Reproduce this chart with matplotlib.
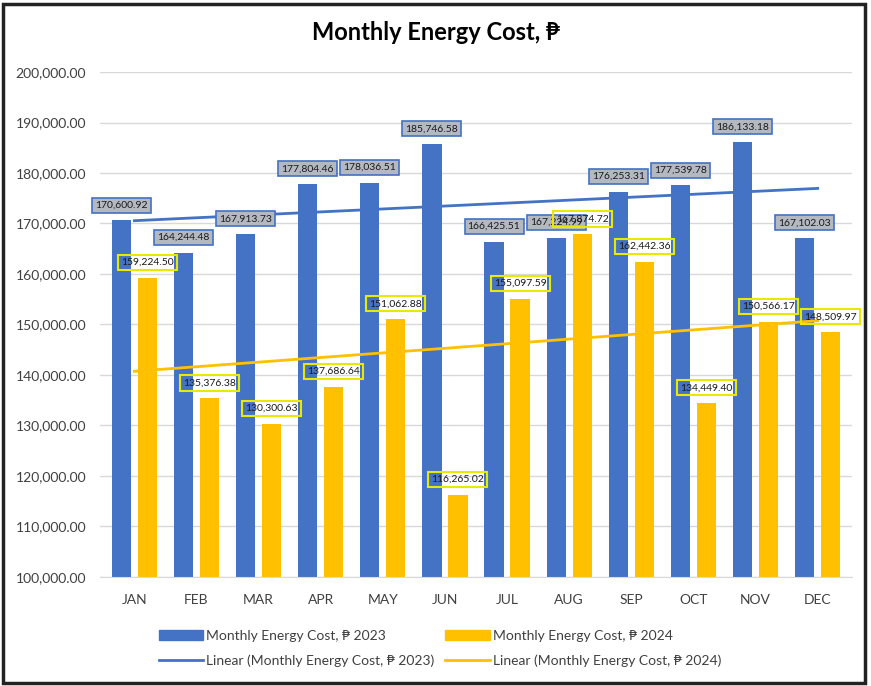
import matplotlib
matplotlib.use("Agg")
import matplotlib.pyplot as plt
import numpy as np
from matplotlib.patches import Rectangle
from matplotlib.lines import Line2D

months = ["JAN", "FEB", "MAR", "APR", "MAY", "JUN", "JUL", "AUG", "SEP", "OCT", "NOV", "DEC"]
cost_2023 = [170600.92, 164244.48, 167913.73, 177804.46, 178036.51, 185746.58,
             166425.51, 167224.99, 176253.31, 177539.78, 186133.18, 167102.03]
cost_2024 = [159224.50, 135376.38, 130300.63, 137686.64, 151062.88, 116265.02,
             155097.59, 167874.72, 162442.36, 134449.40, 150566.17, 148509.97]
yticks = [100000, 110000, 120000, 130000, 140000, 150000, 160000, 170000, 180000, 190000, 200000]

plt.rcParams['font.family'] = ['Lato', 'DejaVu Sans']

BLUE = "#4472C4"
YELLOW = "#FFC000"

fig = plt.figure(figsize=(8.71, 6.86), dpi=100)
ax = fig.add_axes([0.115, 0.159, 0.863, 0.736])

x = np.arange(len(months))
w = 0.31
off = 0.21
ax.bar(x - off, cost_2023, width=w, color=BLUE, zorder=2, label="Monthly Energy Cost, ₱ 2023")
ax.bar(x + off, cost_2024, width=w, color=YELLOW, zorder=2, label="Monthly Energy Cost, ₱ 2024")

# linear trendlines (least squares fit, as Excel does)
p23 = np.polyfit(x + 1, cost_2023, 1)
p24 = np.polyfit(x + 1, cost_2024, 1)
ax.plot(x, np.polyval(p23, x + 1), color=BLUE, lw=2, zorder=3)
ax.plot(x, np.polyval(p24, x + 1), color=YELLOW, lw=2, zorder=3)

for xi, v in zip(x, cost_2023):
    ax.annotate(f"{v:,.2f}", (xi - off, v), xytext=(0, 11), textcoords="offset points",
                ha="center", va="center", fontsize=7.5, color="#1a1a1a", zorder=5,
                bbox=dict(boxstyle="square,pad=0.3", fc="#b4b8c0", ec=BLUE, lw=1.2))
for xi, v in zip(x, cost_2024):
    ax.annotate(f"{v:,.2f}", (xi + off, v), xytext=(0, 11), textcoords="offset points",
                ha="center", va="center", fontsize=7.5, color="#1a1a1a", zorder=5,
                bbox=dict(boxstyle="square,pad=0.3", fc="none", ec="#e8e800", lw=1.5))

ax.set_ylim(100000, 200000)
ax.set_xlim(-0.55, 11.55)
ax.set_yticks(yticks)
ax.set_yticklabels([f"{t:,.2f}" for t in yticks], fontsize=10)
ax.set_xticks(x)
ax.set_xticklabels(months, fontsize=10)
ax.tick_params(length=0, pad=10, colors="#404040")
ax.tick_params(axis="x", pad=12)
ax.grid(axis="y", color="#d9d9d9", lw=1, zorder=0)
for s in ["top", "right", "left"]:
    ax.spines[s].set_visible(False)
ax.spines["bottom"].set_color("#d9d9d9")

fig.text(0.5, 0.952, "Monthly Energy Cost, ₱", ha="center", va="center",
         fontsize=17, fontweight="bold", color="black")

handles = [
    Rectangle((0, 0), 1, 1, color=BLUE),
    Line2D([], [], color=BLUE, lw=2),
    Rectangle((0, 0), 1, 1, color=YELLOW),
    Line2D([], [], color=YELLOW, lw=2),
]
labels = [
    "Monthly Energy Cost, ₱ 2023",
    "Linear (Monthly Energy Cost, ₱ 2023)",
    "Monthly Energy Cost, ₱ 2024",
    "Linear (Monthly Energy Cost, ₱ 2024)",
]
fig.legend(handles, labels, ncol=2, loc="center", bbox_to_anchor=(0.505, 0.055),
           frameon=False, fontsize=10, handlelength=3.2, handletextpad=0.2,
           columnspacing=0.8, labelspacing=0.9, labelcolor="#404040")

fig.patches.append(Rectangle((0.003, 0.004), 0.99, 0.99, transform=fig.transFigure,
                             fill=False, ec="#222222", lw=2.5))

fig.savefig("out.png", dpi=100)
